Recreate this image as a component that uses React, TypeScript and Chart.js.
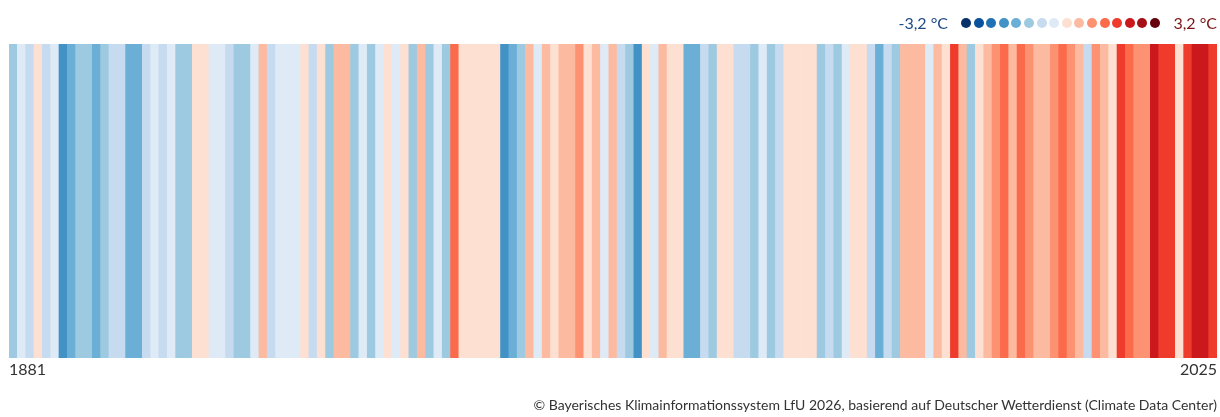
import React, { useEffect, useRef } from "react";
import { Chart, registerables } from "chart.js";

Chart.register(...registerables);

// ---- Data ----
const FIRST_YEAR = 1881;
const LAST_YEAR = 2025;

const ANOMALY: number[] = [
  // 1881-1890
  -1.0, -0.2, -0.6, 0.2, -0.6, -0.2, -1.8, -1.4, -1.0, -1.0,
  // 1891-1900
  -1.4, -1.0, -0.6, -0.6, -1.4, -1.4, -0.6, -0.2, -0.6, -0.2,
  // 1901-1910
  -1.0, -1.0, 0.2, 0.2, -0.2, -0.2, -0.6, -1.0, -1.0, -0.2,
  // 1911-1920
  0.6, -0.6, -0.2, -0.2, -0.2, 0.2, -0.6, 0.2, -1.0, 0.6,
  // 1921-1930
  0.6, -1.0, -0.2, -1.0, -0.2, 0.2, -0.2, 0.2, -1.0, 0.6,
  // 1931-1940
  -1.0, -0.2, -1.0, 1.4, 0.2, 0.2, 0.2, 0.2, 0.2, -1.8,
  // 1941-1950
  -1.4, -1.0, 0.6, -0.2, 0.6, 0.2, 0.6, 0.6, 1.0, 0.2,
  // 1951-1960
  0.6, -0.2, 0.6, -0.6, -1.0, -1.8, 0.2, -0.2, 0.6, 0.2,
  // 1961-1970
  0.2, -1.4, -1.4, -0.6, -1.0, 0.2, 0.2, -0.6, -0.6, -1.0,
  // 1971-1980
  -0.2, -1.0, -0.6, 0.2, 0.2, 0.2, 0.2, -1.0, -0.6, -1.0,
  // 1981-1990
  -0.2, 0.2, 0.2, -0.6, -1.4, -0.6, -1.0, 0.6, 0.6, 0.6,
  // 1991-2000
  -0.2, 0.6, 0.2, 1.8, 0.6, -1.0, 0.2, 0.6, 1.0, 1.4,
  // 2001-2010
  0.6, 1.4, 1.0, 0.6, 0.6, 1.0, 1.4, 1.0, 0.6, -0.6,
  // 2011-2020
  1.0, 0.6, 0.2, 1.8, 1.4, 1.0, 1.0, 2.2, 1.8, 1.8,
  // 2021-2025
  0.2, 1.8, 2.2, 2.2, 1.8,
];

const YEARS: string[] = [];
for (let y = FIRST_YEAR; y <= LAST_YEAR; y++) YEARS.push(String(y));

const AXIS_LABELS = ["1881", "2025"];

const SCALE_MIN = -3.2;
const SCALE_MAX = 3.2;
const LEGEND_MIN_LABEL = "-3,2 °C";
const LEGEND_MAX_LABEL = "3,2 °C";

const PALETTE = [
  "#08306b", "#08519c", "#2171b5", "#4292c6",
  "#6baed6", "#9ecae1", "#c6dbef", "#deebf7",
  "#fee0d2", "#fcbba1", "#fc9272", "#fb6a4a",
  "#ef3b2c", "#cb181d", "#a50f15", "#67000d",
];

const FOOTER =
  "© Bayerisches Klimainformationssystem LfU 2026, basierend auf Deutscher Wetterdienst (Climate Data Center)";

function colorFor(v: number): string {
  const step = (SCALE_MAX - SCALE_MIN) / PALETTE.length;
  let idx = Math.floor((v - SCALE_MIN) / step);
  if (idx < 0) idx = 0;
  if (idx > PALETTE.length - 1) idx = PALETTE.length - 1;
  return PALETTE[idx];
}

const FONT = "Lato, 'Noto Sans', sans-serif";

const edgeLabels = {
  id: "edgeLabels",
  afterDraw(chart: any) {
    const { ctx, chartArea } = chart;
    ctx.save();
    ctx.font = "16px Lato, 'Noto Sans', sans-serif";
    ctx.fillStyle = "#333333";
    ctx.textBaseline = "middle";
    const y = chartArea.bottom + 12;
    ctx.textAlign = "left";
    ctx.fillText(AXIS_LABELS[0], chartArea.left, y);
    ctx.textAlign = "right";
    ctx.fillText(AXIS_LABELS[1], chartArea.right, y);
    ctx.restore();
  },
};

export default function App() {
  const ref = useRef<HTMLCanvasElement | null>(null);

  useEffect(() => {
    if (!ref.current) return;
    const chart = new Chart(ref.current, {
      type: "bar",
      data: {
        labels: YEARS,
        datasets: [
          {
            data: YEARS.map(() => 1),
            backgroundColor: ANOMALY.map(colorFor),
            borderWidth: 0,
            categoryPercentage: 1,
            barPercentage: 1,
          },
        ],
      },
      options: {
        animation: false,
        responsive: false,
        maintainAspectRatio: false,
        layout: { padding: { left: 9, right: 3, top: 44, bottom: 59 } },
        plugins: {
          legend: { display: false },
          tooltip: { enabled: false },
        },
        scales: {
          x: { display: false },
          y: { display: false, min: 0, max: 1 },
        },
      },
      plugins: [edgeLabels],
    });
    return () => chart.destroy();
  }, []);

  const dotStart = 961;
  const dotGap = 12.6;

  return (
    <div
      style={{
        position: "absolute",
        left: 0,
        top: 0,
        width: 1220,
        height: 417,
        background: "#ffffff",
        fontFamily: FONT,
      }}
    >
      <canvas ref={ref} width={1220} height={417} style={{ position: "absolute", left: 0, top: 0 }} />
      <div
        style={{
          position: "absolute",
          right: 1220 - 948,
          top: 13,
          fontSize: 16,
          lineHeight: "20px",
          color: "#1f4a86",
          whiteSpace: "nowrap",
        }}
      >
        {LEGEND_MIN_LABEL}
      </div>
      {PALETTE.map((c, i) => (
        <div
          key={i}
          style={{
            position: "absolute",
            left: dotStart + i * dotGap,
            top: 18,
            width: 10,
            height: 10,
            borderRadius: "50%",
            background: c,
          }}
        />
      ))}
      <div
        style={{
          position: "absolute",
          right: 3,
          top: 13,
          fontSize: 16,
          lineHeight: "20px",
          color: "#7a1515",
          whiteSpace: "nowrap",
        }}
      >
        {LEGEND_MAX_LABEL}
      </div>
      <div
        style={{
          position: "absolute",
          right: 3,
          top: 396,
          fontSize: 14,
          lineHeight: "18px",
          color: "#333333",
          whiteSpace: "nowrap",
        }}
      >
        {FOOTER}
      </div>
    </div>
  );
}
